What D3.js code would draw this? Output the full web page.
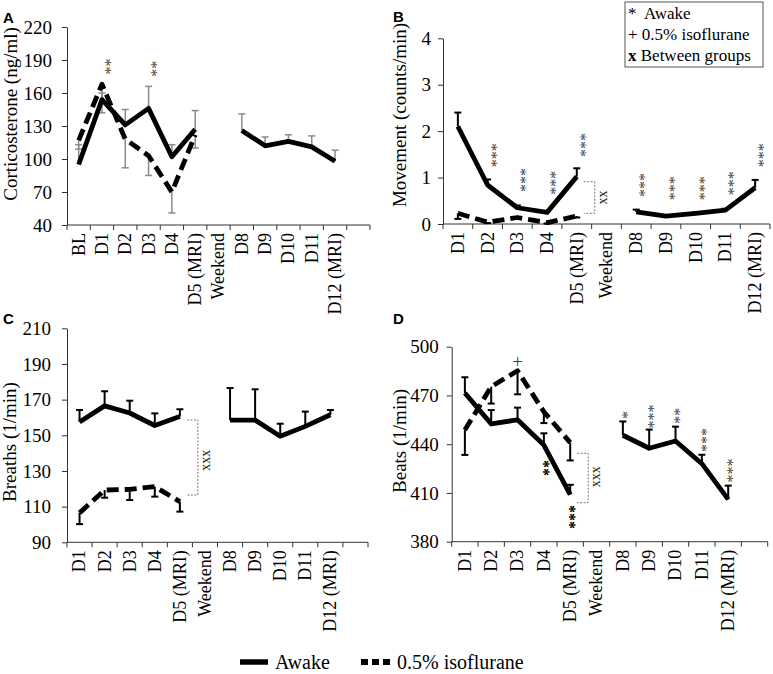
<!DOCTYPE html>
<html><head><meta charset="utf-8">
<script src="https://cdn.jsdelivr.net/npm/d3@7"></script>
<style>
body{margin:0;background:#fff}
svg{display:block}
text{font-family:"Liberation Serif","Times New Roman",serif;fill:#000}
.star{opacity:0.99}
</style>
</head><body>
<svg id="chart" width="773" height="674"></svg>
<script>
// ---------- DATA ----------
const catsA = ["BL","D1","D2","D3","D4","D5 (MRI)","Weekend","D8","D9","D10","D11","D12 (MRI)",""];
const ticksA = [40,70,100,130,160,190,220];
const awakeA = [95,154,131,146,102,127,null,126,112,116,111,98,null];
const awakeErrA = [18,6,14,20,11,17,null,15,8,6,10,10,null];
const isoA = [117,168,118,103,70,122,null,null,null,null,null,null,null];
const isoErrA = [8,26,26,18,19,12,null,null,null,null,null,null,null];
const starsA = [{cat:"D1",v:184,t:"**"},{cat:"D3",v:182,t:"**"}];

const catsB = ["D1","D2","D3","D4","D5 (MRI)","Weekend","D8","D9","D10","D11","D12 (MRI)"];
const ticksB = [0,1,2,3,4];
const awakeB = [2.1,0.84,0.35,0.25,1.02,null,0.26,0.17,0.23,0.3,0.78];
const awakeErrB = [0.3,0.12,0.05,0.03,0.18,null,0.05,0.02,0.02,0.03,0.17];
const isoB = [0.23,0.04,0.14,0.03,0.17,null,null,null,null,null,null];
const isoErrB = [0.12,0.02,0.02,0.02,0.03,null,null,null,null,null,null];
const starsB = [{cat:"D2",v:1.48,t:"***"},{cat:"D3",v:0.95,t:"***"},{cat:"D4",v:0.89,t:"***"},
  {cat:"D5 (MRI)",v:1.7,t:"***"},{cat:"D8",v:0.84,t:"***"},{cat:"D9",v:0.77,t:"***"},
  {cat:"D10",v:0.77,t:"***"},{cat:"D11",v:0.88,t:"***"},{cat:"D12 (MRI)",v:1.48,t:"***"}];
const bracketB = {cat:"D5 (MRI)",top:0.91,bottom:0.23,label:"xx",labelV:0.57};

const catsC = ["D1","D2","D3","D4","D5 (MRI)","Weekend","D8","D9","D10","D11","D12 (MRI)",""];
const ticksC = [90,110,130,150,170,190,210];
const awakeC = [157.5,166.5,162.5,155.5,160.5,null,158.5,158.5,149.5,155,161.5,null];
const awakeErrC = [6.7,8.2,6.9,6.8,4.1,null,18,17.3,7,8.3,2.7,null];
const isoC = [106.5,119.3,119.7,121.2,112.8,null,null,null,null,null,null,null];
const isoErrC = [6.3,4.3,6,5.6,5.6,null,null,null,null,null,null,null];
const starsC = [];
const bracketC = {cat:"D5 (MRI)",top:158.6,bottom:116.5,label:"xxx",labelV:136};

const catsD = ["D1","D2","D3","D4","D5 (MRI)","Weekend","D8","D9","D10","D11","D12 (MRI)",""];
const ticksD = [380,410,440,470,500];
const awakeD = [471.5,452.5,455,439.5,409,null,445.5,437.5,442,428,406,null];
const awakeErrD = [9.7,8.5,7.5,7.2,6,null,8.5,11.5,8.8,5.5,8.5,null];
const isoD = [448.7,475.4,485.2,460,441,null,null,null,null,null,null,null];
const isoErrD = [15.3,10.4,14.5,7,11,null,null,null,null,null,null,null];
const starsD = [{cat:"D4",v:425.4,t:"**",bold:true},{cat:"D5 (MRI)",v:395.2,t:"***",bold:true},
  {cat:"D8",v:458,t:"*"},{cat:"D9",v:457,t:"***"},{cat:"D10",v:457.5,t:"**"},
  {cat:"D11",v:442.6,t:"***"},{cat:"D12 (MRI)",v:423.8,t:"***"}];
const plusD = [{cat:"D3",v:490.8,t:"+"}];
const bracketD = {cat:"D5 (MRI)",top:434.4,bottom:404,label:"xxx",labelV:420};

// ---------- DRAW ----------
const svg = d3.select("#chart");

const panels = [
  {letter:"A",lx:3,ly:23,cats:catsA,ticks:ticksA,awake:awakeA,awakeErr:awakeErrA,iso:isoA,isoErr:isoErrA,
   stars:starsA,starDx:4,starSize:16,x0:67,x1:370,yTop:27,yBot:225,tickPad:10,
   title:"Corticosterone (ng/ml)",tx:17,ty:114,errColor:"#8a8a8a",errW:1.5},
  {letter:"B",lx:393,ly:22,cats:catsB,ticks:ticksB,awake:awakeB,awakeErr:awakeErrB,iso:isoB,isoErr:isoErrB,
   stars:starsB,starDx:4,starSize:16,bracket:bracketB,x0:443,x1:770,yTop:38.3,yBot:224,tickPad:7,
   title:"Movement (counts/min)",tx:406,ty:115,errColor:"#000",errW:2},
  {letter:"C",lx:3,ly:324,cats:catsC,ticks:ticksC,awake:awakeC,awakeErr:awakeErrC,iso:isoC,isoErr:isoErrC,
   stars:starsC,starDx:0,starSize:16,bracket:bracketC,x0:67,x1:368,yTop:328.3,yBot:542.3,tickPad:11,
   title:"Breaths (1/min)",tx:16,ty:442,errColor:"#000",errW:2},
  {letter:"D",lx:393,ly:324,cats:catsD,ticks:ticksD,awake:awakeD,awakeErr:awakeErrD,iso:isoD,isoErr:isoErrD,
   stars:starsD,plus:plusD,starDx:0,starSize:16,bracket:bracketD,x0:451.7,x1:767.7,yTop:346.7,yBot:541.7,tickPad:8,
   title:"Beats (1/min)",tx:406,ty:441,errColor:"#000",errW:2}
];

panels.forEach(p => {
  const g = svg.append("g");
  const x = d3.scaleBand().domain(p.cats).range([p.x0, p.x1]).padding(0);
  const cx = c => x(c) + x.bandwidth()/2;
  const y = d3.scaleLinear().domain([p.ticks[0], p.ticks[p.ticks.length-1]]).range([p.yBot, p.yTop]);

  // panel letter
  svg.append("text").attr("x",p.lx).attr("y",p.ly)
    .style("font-family","'Liberation Sans',Arial,sans-serif").style("font-weight","bold")
    .style("font-size","15px").text(p.letter);

  // y axis
  const ya = g.append("g").attr("transform",`translate(${p.x0},0)`)
    .call(d3.axisLeft(y).tickValues(p.ticks).tickSize(5).tickSizeOuter(0).tickPadding(p.tickPad).tickFormat(d3.format("d")));
  ya.attr("font-family",null);
  ya.select(".domain").attr("stroke","#333");
  ya.selectAll(".tick line").attr("stroke","#333");
  ya.selectAll(".tick text").style("font-family","'Liberation Serif','Times New Roman',serif").style("font-size","19px").attr("fill","#000");

  // y title
  g.append("text").attr("transform",`translate(${p.tx},${p.ty}) rotate(-90)`)
    .attr("text-anchor","middle").style("font-size","19px").text(p.title);

  // x axis
  g.append("line").attr("x1",p.x0).attr("x2",p.x1).attr("y1",p.yBot).attr("y2",p.yBot).attr("stroke","#333");
  const bounds = p.cats.map(c => x(c)).concat([p.x1]);
  g.selectAll(".xt").data(bounds).enter().append("line")
    .attr("x1",d=>d).attr("x2",d=>d).attr("y1",p.yBot).attr("y2",p.yBot+5).attr("stroke","#333");
  g.selectAll(".xl").data(p.cats).enter().append("text")
    .attr("transform",c=>`translate(${cx(c)},${p.yBot+8}) rotate(-90)`)
    .attr("text-anchor","end").attr("dy","0.33em").style("font-size","18px").text(c=>c);

  // error bars
  const errs = [];
  p.cats.forEach((c,i) => {
    if (p.awake[i]!=null && p.awakeErr[i]) errs.push({c, a:p.awake[i], b:p.awake[i]+p.awakeErr[i]});
    if (p.iso[i]!=null && p.isoErr[i]) errs.push({c, a:p.iso[i], b:p.iso[i]-p.isoErr[i]});
  });
  const eg = g.append("g").attr("stroke",p.errColor).attr("stroke-width",p.errW);
  errs.forEach(e => {
    eg.append("line").attr("x1",cx(e.c)).attr("x2",cx(e.c)).attr("y1",y(e.a)).attr("y2",y(e.b));
    eg.append("line").attr("x1",cx(e.c)-3.5).attr("x2",cx(e.c)+3.5).attr("y1",y(e.b)).attr("y2",y(e.b));
  });

  // lines
  const line = d3.line().defined(d=>d.v!=null).x(d=>cx(d.c)).y(d=>y(d.v));
  const isoData = p.cats.map((c,i)=>({c, v:p.iso[i]}));
  const awData = p.cats.map((c,i)=>({c, v:p.awake[i]}));
  g.append("path").attr("d",line(isoData)).attr("fill","none").attr("stroke","#000")
    .attr("stroke-width",4.8).attr("stroke-dasharray","12,6").attr("stroke-linejoin","round");
  g.append("path").attr("d",line(awData)).attr("fill","none").attr("stroke","#000")
    .attr("stroke-width",4.8).attr("stroke-linejoin","round");

  // stars
  (p.stars||[]).forEach(s => {
    g.append("text").attr("class","star").attr("transform",`translate(${cx(s.cat)+p.starDx},${y(s.v)}) rotate(-90)`)
      .attr("text-anchor","middle").attr("dy","0.62em")
      .style("font-size",p.starSize+"px").style("font-weight",s.bold?"bold":"normal")
      .style("fill",s.bold?"#000":"#444").text(s.t);
  });
  (p.plus||[]).forEach(s => {
    g.append("text").attr("x",cx(s.cat)).attr("y",y(s.v)).attr("dy","0.35em")
      .attr("text-anchor","middle").style("font-size","18px").style("fill","#333").text(s.t);
  });

  // bracket
  if (p.bracket) {
    const b = p.bracket, bx = cx(b.cat);
    const xa = bx + 7, xb = bx + 18;
    g.append("path").attr("d",`M${xa},${y(b.top)}H${xb}V${y(b.bottom)}H${xa}`)
      .attr("fill","none").attr("stroke","#777").attr("stroke-width",1).attr("stroke-dasharray","2,1.5");
    g.append("text").attr("class","star").attr("transform",`translate(${xb+8},${y(b.labelV)}) rotate(-90)`)
      .attr("text-anchor","middle").attr("dy","0.3em").style("font-size","14px").style("fill","#222").text(b.label);
  }
});

// significance key (panel B)
const key = svg.append("g");
key.append("rect").attr("x",625).attr("y",2).attr("width",138).attr("height",65)
  .attr("fill","#fff").attr("stroke","#555").attr("stroke-width",1);
const keyRows = [{s:"*",t:"  Awake"},{s:"+",t:" 0.5% isoflurane"},{s:"x",t:" Between groups",bold:true}];
keyRows.forEach((r,i) => {
  const t = key.append("text").attr("x",628).attr("y",19+i*20.8).style("font-size","17px").style("white-space","pre");
  t.append("tspan").style("font-weight",r.bold?"bold":"normal").text(r.s);
  t.append("tspan").text(r.t);
});

// series legend (bottom)
const lg = svg.append("g");
lg.append("line").attr("x1",240).attr("x2",268).attr("y1",662).attr("y2",662).attr("stroke","#000").attr("stroke-width",5.5);
lg.append("text").attr("x",275).attr("y",668.5).style("font-size","20px").text("Awake");
lg.append("line").attr("x1",361).attr("x2",390).attr("y1",662).attr("y2",662).attr("stroke","#000").attr("stroke-width",6).attr("stroke-dasharray","7,4");
lg.append("text").attr("x",397).attr("y",668.5).style("font-size","20px").text("0.5% isoflurane");
</script>
</body></html>
